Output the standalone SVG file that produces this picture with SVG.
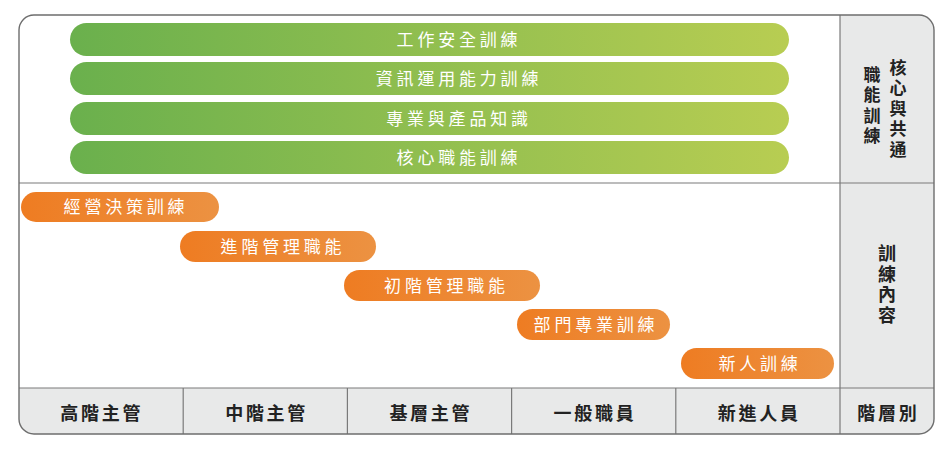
<svg xmlns="http://www.w3.org/2000/svg" width="950" height="450" viewBox="0 0 950 450">
  <defs>
    <linearGradient id="gGreen" x1="0" y1="0" x2="1" y2="0">
      <stop offset="0" stop-color="#6ab04d"/>
      <stop offset="1" stop-color="#b8cd52"/>
    </linearGradient>
    <linearGradient id="gOrange" x1="0" y1="0" x2="1" y2="0">
      <stop offset="0" stop-color="#ee7c22"/>
      <stop offset="1" stop-color="#ec9242"/>
    </linearGradient>
    <clipPath id="frameClip">
      <rect x="19" y="15" width="915" height="419" rx="15" ry="15"/>
    </clipPath>
    <style>
      .bar { font-family: "Noto Sans CJK TC", "Noto Sans CJK SC", sans-serif; font-size: 17px; font-weight: 400; fill: #ffffff; text-anchor: middle; letter-spacing: 3.8px; }
      .lvl { font-family: "Noto Sans CJK TC", "Noto Sans CJK SC", sans-serif; font-size: 18px; font-weight: 700; fill: #222222; text-anchor: middle; letter-spacing: 2.7px; }
      .vert { font-family: "Noto Sans CJK TC", "Noto Sans CJK SC", sans-serif; font-size: 17px; font-weight: 700; fill: #222222; writing-mode: vertical-rl; text-orientation: upright; letter-spacing: 3.5px; }
      .line { stroke: #7a7a7a; stroke-width: 1.2; fill: none; }
    </style>
  </defs>

  <g id="frame">
    <g clip-path="url(#frameClip)">
      <rect x="19" y="15" width="915" height="419" fill="#ffffff"/>
      <rect x="840" y="15" width="94" height="419" fill="#e8e9e9"/>
      <rect x="19" y="388" width="915" height="46" fill="#e8e9e9"/>
    </g>
  </g>

  <g id="connectors">
    <line class="line" x1="19" y1="183" x2="934" y2="183"/>
    <line class="line" x1="19" y1="388" x2="934" y2="388"/>
    <line class="line" x1="840" y1="15" x2="840" y2="434"/>
    <line class="line" x1="183.2" y1="388" x2="183.2" y2="434"/>
    <line class="line" x1="347.4" y1="388" x2="347.4" y2="434"/>
    <line class="line" x1="511.6" y1="388" x2="511.6" y2="434"/>
    <line class="line" x1="675.8" y1="388" x2="675.8" y2="434"/>
    <rect x="19" y="15" width="915" height="419" rx="15" ry="15" fill="none" stroke="#6d6d6d" stroke-width="1.4"/>
  </g>

  <g id="bar-safety">
    <rect x="70" y="23" width="719" height="33" rx="16.5" fill="url(#gGreen)"/>
    <text class="bar" x="459" y="45.5">工作安全訓練</text>
  </g>
  <g id="bar-info">
    <rect x="70" y="62" width="719" height="33" rx="16.5" fill="url(#gGreen)"/>
    <text class="bar" x="459" y="84.5">資訊運用能力訓練</text>
  </g>
  <g id="bar-product">
    <rect x="70" y="102" width="719" height="33" rx="16.5" fill="url(#gGreen)"/>
    <text class="bar" x="459" y="124.5">專業與產品知識</text>
  </g>
  <g id="bar-core">
    <rect x="70" y="141" width="719" height="33" rx="16.5" fill="url(#gGreen)"/>
    <text class="bar" x="459" y="163.5">核心職能訓練</text>
  </g>

  <g id="bar-decision">
    <rect x="21" y="192" width="198" height="30" rx="15" fill="url(#gOrange)"/>
    <text class="bar" x="126" y="213">經營決策訓練</text>
  </g>
  <g id="bar-advanced">
    <rect x="180" y="231" width="196" height="31" rx="15.5" fill="url(#gOrange)"/>
    <text class="bar" x="283" y="252.5">進階管理職能</text>
  </g>
  <g id="bar-basic">
    <rect x="344" y="270" width="196" height="31" rx="15.5" fill="url(#gOrange)"/>
    <text class="bar" x="446.5" y="291.5">初階管理職能</text>
  </g>
  <g id="bar-dept">
    <rect x="517" y="309" width="153" height="31" rx="15.5" fill="url(#gOrange)"/>
    <text class="bar" x="596" y="330.5">部門專業訓練</text>
  </g>
  <g id="bar-newbie">
    <rect x="681" y="348" width="153" height="31" rx="15.5" fill="url(#gOrange)"/>
    <text class="bar" x="760" y="369.5">新人訓練</text>
  </g>

  <g id="label-core-common">
    <text class="vert" x="898" y="59">核心與共通</text>
    <text class="vert" x="872" y="66">職能訓練</text>
  </g>
  <g id="label-content">
    <text class="vert" x="887" y="244" style="font-size:18px;letter-spacing:2.7px">訓練內容</text>
  </g>

  <g id="level-top"><text class="lvl" x="101.7" y="419.5">高階主管</text></g>
  <g id="level-middle"><text class="lvl" x="266.6" y="419.5">中階主管</text></g>
  <g id="level-base"><text class="lvl" x="430.8" y="419.5">基層主管</text></g>
  <g id="level-staff"><text class="lvl" x="595" y="419.5">一般職員</text></g>
  <g id="level-new"><text class="lvl" x="759.2" y="419.5">新進人員</text></g>
  <g id="level-header"><text class="lvl" x="888.4" y="419.5">階層別</text></g>
</svg>
